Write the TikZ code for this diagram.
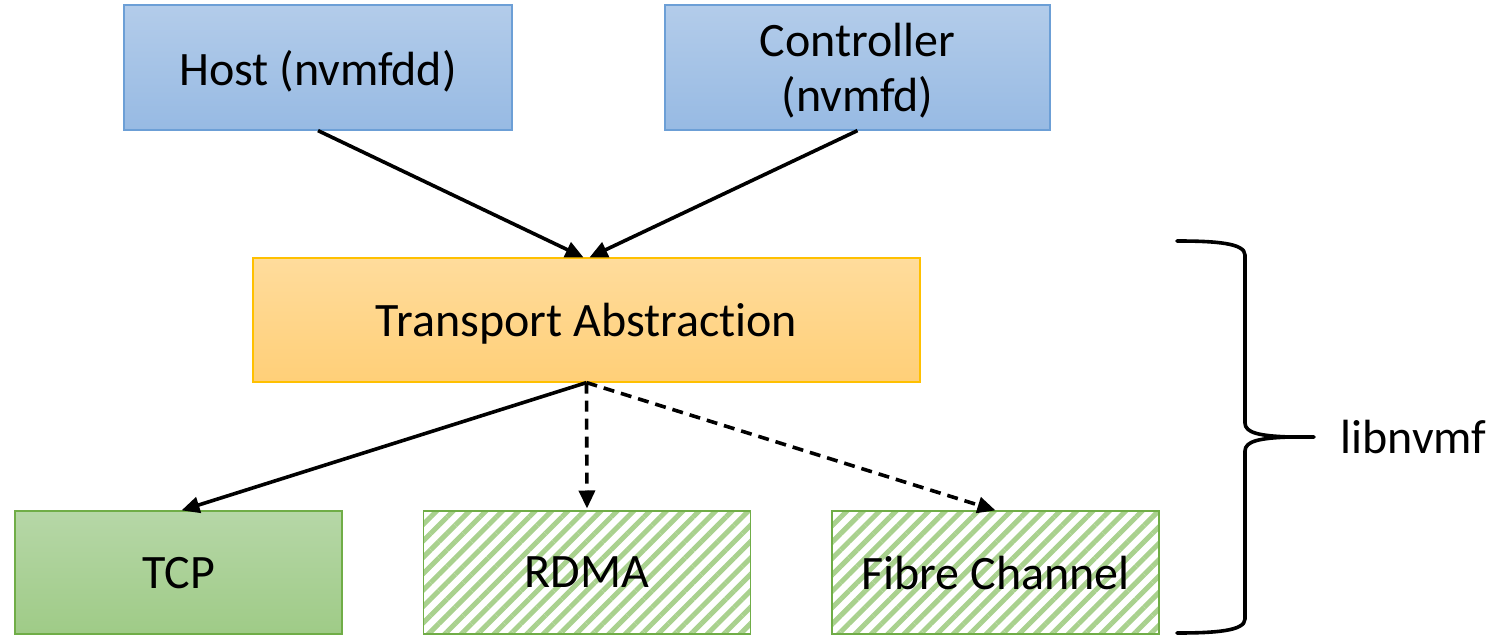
\documentclass[tikz,border=0pt]{standalone}
\usepackage{fontspec}
\setmainfont{Carlito}[Ligatures=NoCommon]
\usetikzlibrary{arrows.meta,patterns.meta}
\definecolor{bluetop}{HTML}{B3CCEA}
\definecolor{bluebot}{HTML}{97BAE3}
\definecolor{blueedge}{HTML}{6C9FD6}
\definecolor{ortop}{HTML}{FFDC9C}
\definecolor{orbot}{HTML}{FFCF78}
\definecolor{oredge}{HTML}{FFC000}
\definecolor{grtop}{HTML}{B6D7A7}
\definecolor{grbot}{HTML}{9FCB87}
\definecolor{gredge}{HTML}{70AD47}
\definecolor{hatch}{HTML}{A9D18E}
\tikzset{
  every node/.style={font=\fontsize{24}{27.5}\selectfont, inner sep=0pt, align=center},
  bluebox/.style={draw=blueedge, line width=0.6pt, top color=bluetop, bottom color=bluebot, minimum height=62.5pt, text depth=0pt},
  orbox/.style={draw=oredge, line width=0.6pt, top color=ortop, bottom color=orbot, minimum height=62pt, minimum width=333.5pt, text depth=0pt},
  grbox/.style={draw=gredge, line width=0.6pt, top color=grtop, bottom color=grbot, minimum height=61.5pt, minimum width=163.5pt, text depth=0pt},
  hatchbox/.style={draw=gredge, line width=0.6pt, minimum height=61.5pt, minimum width=163.5pt,
     pattern={Lines[angle=45, distance=5.8pt, line width=2.5pt]}, pattern color=hatch},
  conn/.style={line width=1.8pt, -{Triangle[length=9pt, width=8pt]}},
  dconn/.style={conn, dash pattern=on 5.5pt off 3.5pt},
}
\begin{document}
\begin{tikzpicture}[x=0.5pt, y=-0.5pt]
\useasboundingbox (0,0) rectangle (1499,636);
\node[bluebox, minimum width=194pt] (host) at (318,67.5) {Host (nvmfdd)};
\node[bluebox, minimum width=192.5pt] (ctrl) at (857.5,67.5) {Controller\\(nvmfd)};
\node[orbox] (trans) at (586.5,320) {Transport Abstraction};
\node[grbox] (tcp) at (178.5,572.5) {TCP};
\node[hatchbox] (rdma) at (587,572.5) {};
\node[text depth=0pt] (rdmal) at (rdma.center) {RDMA};
\node[hatchbox] (fc) at (995.5,572.5) {};
\node[text depth=0pt] (fcl) at (fc.center) {Fibre Channel};
\draw[conn] (host.south) -- ([xshift=-1.5pt]trans.north);
\draw[conn] (ctrl.south) -- ([xshift=1.5pt]trans.north);
\draw[conn] (trans.south) -- ([xshift=1.5pt]tcp.north);
\draw[dconn] (trans.south) -- (rdma.north);
\draw[dconn] (trans.south) -- (fc.north);
\coordinate (bt) at (1177,241);
\coordinate (bb) at (1177,633);
\coordinate (tip) at (1314,437);
\draw[line width=1.8pt, line cap=round]
  (bt) .. controls (1215,241) and (1245,243) .. (1245,255)
  -- (1245,423) .. controls (1245,433) and (1260,436) .. (1290,437) -- (tip);
\draw[line width=1.8pt, line cap=round]
  (bb) .. controls (1215,633) and (1245,631) .. (1245,619)
  -- (1245,451) .. controls (1245,441) and (1260,438) .. (1290,437);
\node[anchor=west] (lib) at (1340,437) {libnvmf};
\end{tikzpicture}
\end{document}
